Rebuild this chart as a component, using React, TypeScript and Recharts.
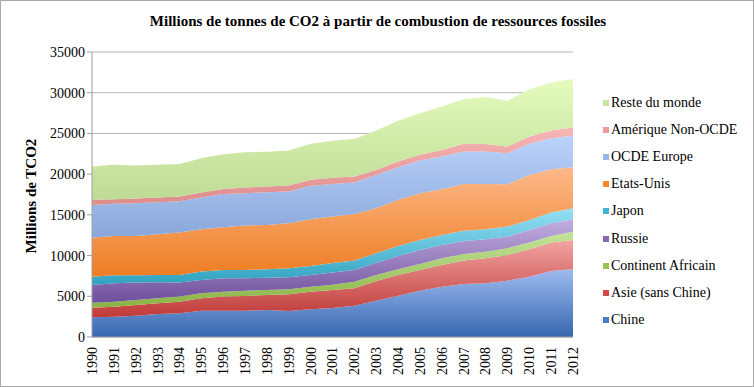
import React from "react";
import { AreaChart, Area, XAxis, YAxis, CartesianGrid } from "recharts";

const years = [
  "1990", "1991", "1992", "1993", "1994", "1995", "1996", "1997", "1998", "1999", "2000", "2001",
  "2002", "2003", "2004", "2005", "2006", "2007", "2008", "2009", "2010", "2011", "2012",
];

// values, Mt CO2 per region
const chine = [2420, 2500, 2620, 2830, 2910, 3230, 3230, 3230, 3320, 3190, 3400, 3550, 3850, 4460, 5080, 5690, 6180, 6510, 6600, 6920, 7410, 8110, 8320];
const asie = [1180, 1220, 1310, 1310, 1430, 1520, 1730, 1810, 1840, 2050, 2170, 2230, 2140, 2420, 2540, 2540, 2670, 2870, 3070, 3160, 3370, 3480, 3600];
const afrique = [620, 620, 620, 610, 620, 620, 610, 650, 620, 620, 610, 640, 780, 740, 700, 740, 820, 820, 810, 820, 810, 820, 1020];
const russie = [2170, 2260, 2130, 1970, 1720, 1640, 1640, 1520, 1510, 1470, 1440, 1500, 1460, 1510, 1630, 1720, 1640, 1600, 1530, 1430, 1560, 1560, 1520];
const japon = [1020, 980, 900, 900, 940, 1020, 1020, 1020, 1030, 1110, 1110, 1170, 1150, 1160, 1240, 1230, 1230, 1260, 1220, 1230, 1230, 1310, 1360];
const etatsUnis = [4790, 4830, 4830, 5000, 5200, 5200, 5250, 5450, 5440, 5530, 5730, 5700, 5740, 5530, 5650, 5740, 5610, 5740, 5570, 5210, 5530, 5330, 5040];
const europe = [4020, 3940, 4020, 3930, 3860, 3890, 4090, 3980, 4020, 3890, 4100, 4010, 3850, 4090, 4010, 4010, 4010, 3980, 3980, 3810, 3810, 3810, 3840];
const amerique = [620, 570, 570, 570, 560, 620, 620, 690, 690, 740, 740, 760, 730, 610, 700, 700, 820, 940, 920, 810, 900, 930, 1020];
const reste = [4090, 4220, 4060, 4020, 4020, 4220, 4260, 4350, 4270, 4300, 4420, 4530, 4630, 4830, 5000, 5120, 5320, 5490, 5760, 5610, 5820, 5900, 5950];

const yTicks = [0, 5000, 10000, 15000, 20000, 25000, 30000, 35000];

const series = [
  { key: "chine", name: "Chine", values: chine, light: "#9dbbef", dark: "#3767b0", mark: "#4a7bc4" },
  { key: "asie", name: "Asie (sans Chine)", values: asie, light: "#f2a4a2", dark: "#bf3a38", mark: "#d24a48" },
  { key: "afrique", name: "Continent Africain", values: afrique, light: "#c4e49a", dark: "#8ab243", mark: "#9cc256" },
  { key: "russie", name: "Russie", values: russie, light: "#c2aee0", dark: "#6e4f9c", mark: "#8468b0" },
  { key: "japon", name: "Japon", values: japon, light: "#95e0f4", dark: "#2fa2c0", mark: "#3eb4d2" },
  { key: "etatsUnis", name: "Etats-Unis", values: etatsUnis, light: "#fdb88a", dark: "#ee7d22", mark: "#f38b34" },
  { key: "europe", name: "OCDE Europe", values: europe, light: "#bad3fa", dark: "#8aa7da", mark: "#98b6ea" },
  { key: "amerique", name: "Amérique Non-OCDE", values: amerique, light: "#f7b6b6", dark: "#de8c8c", mark: "#ec9c9c" },
  { key: "reste", name: "Reste du monde", values: reste, light: "#e4fbbd", dark: "#bedb95", mark: "#c8e6a0" },
];

const data = years.map((year, i) => {
  const row: Record<string, string | number> = { year };
  series.forEach((s) => (row[s.key] = s.values[i]));
  return row;
});

const FONT = "Liberation Serif";

export default function App() {
  return (
    <div
      style={{
        position: "absolute",
        left: 0,
        top: 0,
        width: 752,
        height: 385,
        border: "1px solid #a8a8a8",
        background: "#fff",
        fontFamily: FONT,
      }}
    >
      <div
        style={{
          position: "absolute",
          top: 12,
          left: 0,
          width: 754,
          textAlign: "center",
          fontWeight: "bold",
          fontSize: 15,
        }}
      >
        Millions de tonnes de CO2 à partir de combustion de ressources fossiles
      </div>
      <div
        style={{
          position: "absolute",
          left: 30,
          top: 195,
          transform: "translate(-50%, -50%) rotate(-90deg)",
          whiteSpace: "nowrap",
          fontWeight: "bold",
          fontSize: 15,
        }}
      >
        Millions de TCO2
      </div>
      {/* legend, top entry first like the original */}
      <div style={{ position: "absolute", left: 602, top: 88, fontSize: 14, color: "#000" }}>
        {[...series].reverse().map((s) => (
          <div key={s.key} style={{ height: 27.2, display: "flex", alignItems: "center" }}>
            <span style={{ width: 6, height: 6, background: s.mark, marginRight: 2, display: "inline-block" }} />
            <span style={{ fontFamily: FONT }}>{s.name}</span>
          </div>
        ))}
      </div>
      <AreaChart
        width={754}
        height={387}
        data={data}
        margin={{ top: 52, right: 181, bottom: 0, left: 40 }}
        style={{ position: "absolute", left: -1, top: -1 }}
      >
        <defs>
          {series.map((s) => (
            <linearGradient key={s.key} id={`g-${s.key}`} x1="0" y1="0" x2="0" y2="1">
              <stop offset="0%" stopColor={s.light} />
              <stop offset="100%" stopColor={s.dark} />
            </linearGradient>
          ))}
        </defs>
        <CartesianGrid vertical={false} stroke="#b4b4b4" />
        <XAxis
          dataKey="year"
          interval={0}
          stroke="#a0a0a0"
          tickLine={false}
          tick={{ fill: "#000", fontFamily: FONT, fontSize: 14 }}
          angle={-90}
          textAnchor="end"
          dx={-5}
          dy={2}
          height={50}
        />
        <YAxis
          domain={[0, 35000]}
          ticks={yTicks}
          width={52}
          stroke="#a0a0a0"
          tickSize={5}
          tick={{ fill: "#000", fontFamily: FONT, fontSize: 14 }}
        />
        {series.map((s) => (
          <Area
            key={s.key}
            type="linear"
            dataKey={s.key}
            name={s.name}
            stackId="1"
            stroke="none"
            fill={`url(#g-${s.key})`}
            fillOpacity={1}
            isAnimationActive={false}
          />
        ))}
      </AreaChart>
    </div>
  );
}
